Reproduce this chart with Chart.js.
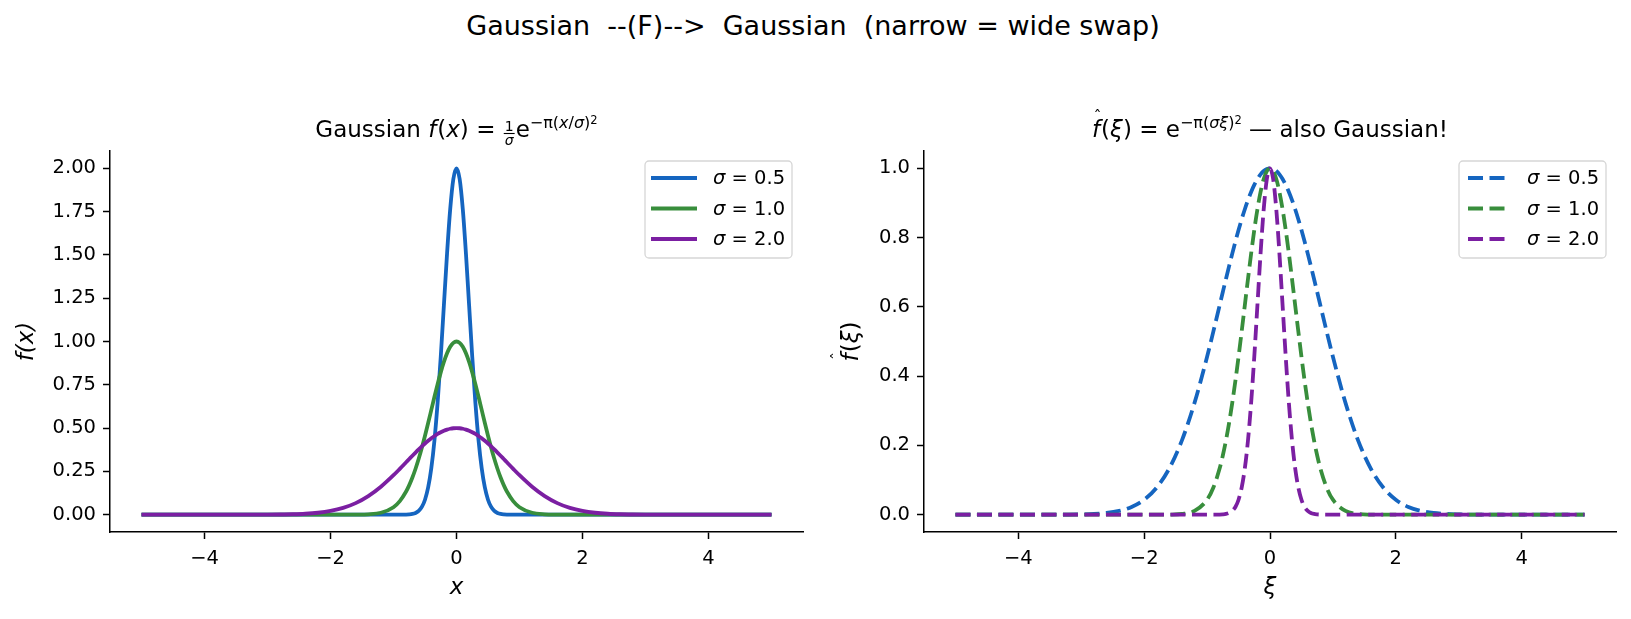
<!DOCTYPE html>
<html><head><meta charset="utf-8">
<script src="https://cdn.jsdelivr.net/npm/chart.js@4.4.1/dist/chart.umd.min.js"></script>
<style>
html,body{margin:0;padding:0;background:#fff;}
#wrap{position:relative;width:1631px;height:619px;overflow:hidden;background:#fff;}
#sup{position:absolute;left:0;width:1626px;top:12px;text-align:center;font-family:'DejaVu Sans';font-size:27px;line-height:27px;color:#000;white-space:pre;}
canvas{position:absolute;top:0;}
</style></head>
<body><div id="wrap">
<div id="sup">Gaussian  --(F)-->  Gaussian  (narrow = wide swap)</div>
<canvas id="c1" width="815" height="619" style="left:0px"></canvas>
<canvas id="c2" width="816" height="619" style="left:815px"></canvas>
</div>
<script>
// ---------- data ----------
const xs = [-5,-4.5,-4,-3.5,-3.2,-3.0,-2.8,-2.6,-2.4,-2.2,-2.0,-1.8,-1.6,-1.4,-1.2,-1.0,-0.9,-0.8,-0.75,-0.7,-0.65,-0.6,-0.55,-0.5,-0.45,-0.4,-0.35,-0.3,-0.25,-0.2,-0.15,-0.1,-0.05,
  0,
  0.05,0.1,0.15,0.2,0.25,0.3,0.35,0.4,0.45,0.5,0.55,0.6,0.65,0.7,0.75,0.8,0.9,1.0,1.2,1.4,1.6,1.8,2.0,2.2,2.4,2.6,2.8,3.0,3.2,3.5,4,4.5,5];

const sigmaLabels = ['0.5', '1.0', '2.0'];

const leftSigma05 = [0,0,0,0,0,0,0,0,0,0,0,0,0,0,0,0,0.0001,0.0006,0.0017,0.0042,0.0099,0.0217,0.0447,0.0864,0.1570,0.2678,0.4291,0.6454,0.9119,1.2098,1.5074,1.7638,1.9381,
  2.0,
  1.9381,1.7638,1.5074,1.2098,0.9119,0.6454,0.4291,0.2678,0.1570,0.0864,0.0447,0.0217,0.0099,0.0042,0.0017,0.0006,0.0001,0,0,0,0,0,0,0,0,0,0,0,0,0,0,0,0];
const leftSigma10 = [0,0,0,0,0,0,0,0,0,0,0,0,0.0003,0.0021,0.0109,0.0432,0.0785,0.1339,0.1708,0.2146,0.2652,0.3227,0.3866,0.4559,0.5293,0.6049,0.6806,0.7537,0.8217,0.8819,0.9318,0.9691,0.9922,
  1.0,
  0.9922,0.9691,0.9318,0.8819,0.8217,0.7537,0.6806,0.6049,0.5293,0.4559,0.3866,0.3227,0.2652,0.2146,0.1708,0.1339,0.0785,0.0432,0.0109,0.0021,0.0003,0,0,0,0,0,0,0,0,0,0,0,0];
const leftSigma20 = [0,0,0,0,0.0002,0.0004,0.0011,0.0025,0.0054,0.0112,0.0216,0.0392,0.0669,0.1073,0.1614,0.2280,0.2647,0.3025,0.3214,0.3403,0.3588,0.3769,0.3943,0.4109,0.4265,0.4410,0.4541,0.4659,0.4761,0.4845,0.4912,0.4961,0.4990,
  0.5,
  0.4990,0.4961,0.4912,0.4845,0.4761,0.4659,0.4541,0.4410,0.4265,0.4109,0.3943,0.3769,0.3588,0.3403,0.3214,0.3025,0.2647,0.2280,0.1614,0.1073,0.0669,0.0392,0.0216,0.0112,0.0054,0.0025,0.0011,0.0004,0.0002,0,0,0,0];

const rightSigma05 = [0,0,0,0.0001,0.0003,0.0009,0.0021,0.0049,0.0109,0.0223,0.0432,0.0785,0.1339,0.2146,0.3227,0.4559,0.5293,0.6049,0.6429,0.6806,0.7176,0.7537,0.7885,0.8217,0.8530,0.8819,0.9083,0.9318,0.9521,0.9691,0.9825,0.9922,0.9980,
  1.0,
  0.9980,0.9922,0.9825,0.9691,0.9521,0.9318,0.9083,0.8819,0.8530,0.8217,0.7885,0.7537,0.7176,0.6806,0.6429,0.6049,0.5293,0.4559,0.3227,0.2146,0.1339,0.0785,0.0432,0.0223,0.0109,0.0049,0.0021,0.0009,0.0003,0.0001,0,0,0];
const rightSigma10 = [0,0,0,0,0,0,0,0,0,0,0,0,0.0003,0.0021,0.0109,0.0432,0.0785,0.1339,0.1708,0.2146,0.2652,0.3227,0.3866,0.4559,0.5293,0.6049,0.6806,0.7537,0.8217,0.8819,0.9318,0.9691,0.9922,
  1.0,
  0.9922,0.9691,0.9318,0.8819,0.8217,0.7537,0.6806,0.6049,0.5293,0.4559,0.3866,0.3227,0.2652,0.2146,0.1708,0.1339,0.0785,0.0432,0.0109,0.0021,0.0003,0,0,0,0,0,0,0,0,0,0,0,0];
const rightSigma20 = [0,0,0,0,0,0,0,0,0,0,0,0,0,0,0,0,0,0.0003,0.0009,0.0021,0.0049,0.0109,0.0223,0.0432,0.0785,0.1339,0.2146,0.3227,0.4559,0.6049,0.7537,0.8819,0.9691,
  1.0,
  0.9691,0.8819,0.7537,0.6049,0.4559,0.3227,0.2146,0.1339,0.0785,0.0432,0.0223,0.0109,0.0049,0.0021,0.0009,0.0003,0,0,0,0,0,0,0,0,0,0,0,0,0,0,0,0,0];

const xTickVals = [-4, -2, 0, 2, 4];
const xTickLabels = ['\u22124', '\u22122', '0', '2', '4'];
const leftYTickVals = [0, 0.25, 0.5, 0.75, 1.0, 1.25, 1.5, 1.75, 2.0];
const leftYTickLabels = ['0.00','0.25','0.50','0.75','1.00','1.25','1.50','1.75','2.00'];
const rightYTickVals = [0, 0.2, 0.4, 0.6, 0.8, 1.0];
const rightYTickLabels = ['0.0','0.2','0.4','0.6','0.8','1.0'];

// ---------- styling ----------
const FONT = 'DejaVu Sans';
const COLORS = ['#1565c0', '#388e3c', '#7b1fa2'];
const LW = 3.8;

function fnt(s) { return (s.it ? 'italic ' : '') + s.size + 'px "' + FONT + '"'; }
function segWidth(ctx, s) {
  if (s.frac) {
    ctx.font = fnt({size: s.size}); const a = ctx.measureText(s.num).width;
    ctx.font = fnt({size: s.size, it: true}); const b = ctx.measureText(s.den).width;
    return Math.max(a, b) + 2 * s.pad;
  }
  ctx.font = fnt(s);
  return ctx.measureText(s.t).width + (s.gap || 0);
}
function drawRich(ctx, segs, cx, base) {
  let w = 0; segs.forEach(s => w += segWidth(ctx, s));
  let x = cx - w / 2;
  ctx.save();
  ctx.fillStyle = '#000'; ctx.strokeStyle = '#000';
  ctx.textBaseline = 'alphabetic'; ctx.textAlign = 'left';
  for (const s of segs) {
    const sw = segWidth(ctx, s);
    if (s.frac) {
      ctx.font = fnt({size: s.size}); ctx.textAlign = 'center';
      ctx.fillText(s.num, x + sw / 2, base + s.numDy);
      ctx.font = fnt({size: s.size, it: true});
      ctx.fillText(s.den, x + sw / 2, base + s.denDy);
      ctx.textAlign = 'left';
      ctx.lineWidth = 1.1;
      ctx.beginPath(); ctx.moveTo(x + 1, base + s.barDy); ctx.lineTo(x + sw - 1, base + s.barDy); ctx.stroke();
    } else {
      ctx.font = fnt(s);
      ctx.fillText(s.t, x, base + (s.dy || 0));
      if (s.hat) {
        ctx.font = fnt({size: s.hat.size}); ctx.textAlign = 'center';
        ctx.fillText('\u02C6', x + sw / 2 + s.hat.dx, base + s.hat.dy);
        ctx.textAlign = 'left';
      }
    }
    x += sw;
  }
  ctx.restore();
}

const richTitlePlugin = {
  id: 'richTitle',
  afterDraw(chart, args, opts) {
    const a = chart.chartArea, ctx = chart.ctx;
    drawRich(ctx, opts.segs, (a.left + a.right) / 2, opts.base);
    if (opts.ylabel) {
      ctx.save();
      ctx.translate(opts.ylabel.x, (a.top + a.bottom) / 2);
      ctx.rotate(-Math.PI / 2);
      drawRich(ctx, opts.ylabel.segs, 0, 0);
      ctx.restore();
    }
  }
};

const boxLegendPlugin = {
  id: 'boxLegend',
  afterDraw(chart, args, opts) {
    const ctx = chart.ctx, a = chart.chartArea;
    const bw = 147, bh = 97;
    const bx = a.right - opts.rightInset - bw, by = a.top + 10;
    ctx.save();
    ctx.fillStyle = 'rgba(255,255,255,0.8)';
    ctx.strokeStyle = '#d6d6d6'; ctx.lineWidth = 1.3;
    ctx.beginPath();
    if (ctx.roundRect) ctx.roundRect(bx, by, bw, bh, 4); else ctx.rect(bx, by, bw, bh);
    ctx.fill(); ctx.stroke();
    const rows = [17, 47.5, 78];
    opts.labels.forEach((lab, i) => {
      const yy = by + rows[i];
      ctx.strokeStyle = opts.colors[i]; ctx.lineWidth = LW; ctx.lineCap = 'butt';
      ctx.setLineDash(opts.dash);
      ctx.beginPath(); ctx.moveTo(bx + opts.hx0, yy); ctx.lineTo(bx + opts.hx0 + opts.hlen, yy); ctx.stroke();
      ctx.setLineDash([]);
      ctx.fillStyle = '#000'; ctx.textBaseline = 'middle'; ctx.textAlign = 'left';
      ctx.font = 'italic 19.5px "' + FONT + '"';
      ctx.fillText('\u03C3', bx + 68, yy + 1);
      const sw = ctx.measureText('\u03C3').width;
      ctx.font = '19.5px "' + FONT + '"';
      ctx.fillText(' = ' + lab, bx + 68 + sw, yy + 1);
    });
    ctx.restore();
  }
};

function makeDatasets(series, dash) {
  return series.map((vals, i) => ({
    label: '\u03C3 = ' + sigmaLabels[i],
    data: xs.map((x, j) => ({x: x, y: vals[j]})),
    borderColor: COLORS[i],
    backgroundColor: COLORS[i],
    borderWidth: LW,
    borderDash: dash,
    pointRadius: 0,
    fill: false,
    cubicInterpolationMode: 'monotone',
    order: 2 - i
  }));
}

function makeChart(id, cfg) {
  return new Chart(document.getElementById(id), {
    type: 'line',
    data: {datasets: makeDatasets(cfg.series, cfg.dash)},
    options: {
      responsive: false, animation: false, events: [],
      layout: {padding: {top: 151, right: cfg.padRight, bottom: 0, left: 0}},
      plugins: {
        legend: {display: false}, tooltip: {enabled: false}, title: {display: false},
        richTitle: {segs: cfg.titleSegs, base: 137, ylabel: cfg.ylabelRich},
        boxLegend: {labels: sigmaLabels, colors: COLORS, dash: cfg.dash, rightInset: cfg.legendInset, hx0: cfg.hx0, hlen: cfg.hlen}
      },
      scales: {
        x: {
          type: 'linear', min: -5.5, max: 5.5,
          afterBuildTicks: ax => { ax.ticks = xTickVals.map(v => ({value: v})); },
          afterFit: ax => { ax.height = 87; },
          ticks: {callback: v => xTickLabels[xTickVals.indexOf(v)], font: {family: FONT, size: 19.5}, color: '#000', padding: 8, maxRotation: 0, autoSkip: false},
          grid: {drawOnChartArea: false, drawTicks: true, tickLength: 7, tickWidth: 1.5, tickColor: '#000'},
          border: {display: true, color: '#000', width: 1.5},
          title: {display: true, text: cfg.xTitle, font: {family: FONT, size: 23, style: 'italic'}, color: '#000', padding: {top: 0, bottom: 17}}
        },
        y: {
          type: 'linear', min: cfg.yMin, max: cfg.yMax,
          afterBuildTicks: ax => { ax.ticks = cfg.yTickVals.map(v => ({value: v})); },
          afterFit: ax => { ax.width = cfg.yWidth; },
          ticks: {callback: v => cfg.yTickLabels[cfg.yTickVals.indexOf(v)], font: {family: FONT, size: 19.5}, color: '#000', padding: 7, autoSkip: false},
          grid: {drawOnChartArea: false, drawTicks: true, tickLength: 7, tickWidth: 1.5, tickColor: '#000'},
          border: {display: true, color: '#000', width: 1.5},
          title: {display: !!cfg.yTitle, text: cfg.yTitle || '', font: {family: FONT, size: 23, style: 'italic'}, color: '#000', padding: {top: cfg.yTitlePad, bottom: 0}}
        }
      }
    },
    plugins: [richTitlePlugin, boxLegendPlugin]
  });
}

const leftTitle = [
  {t: 'Gaussian ', size: 23},
  {t: 'f', size: 23, it: true, gap: 1},
  {t: '(', size: 23},
  {t: 'x', size: 23, it: true},
  {t: ')', size: 23},
  {t: ' = ', size: 23},
  {frac: true, num: '1', den: '\u03C3', size: 14, pad: 2, numDy: -6.5, denDy: 8, barDy: -3.5},
  {t: 'e', size: 23},
  {t: '\u2212\u03C0', size: 16, dy: -9},
  {t: '(', size: 16, dy: -9},
  {t: 'x', size: 16, it: true, dy: -9},
  {t: '/', size: 16, dy: -9},
  {t: '\u03C3', size: 16, it: true, dy: -9},
  {t: ')', size: 16, dy: -9},
  {t: '2', size: 11.5, dy: -13}
];
const rightTitle = [
  {t: 'f', size: 23, it: true, gap: 1, hat: {size: 16, dx: 1, dy: -15}},
  {t: '(', size: 23},
  {t: '\u03BE', size: 23, it: true},
  {t: ')', size: 23},
  {t: ' = ', size: 23},
  {t: 'e', size: 23},
  {t: '\u2212\u03C0', size: 16, dy: -9},
  {t: '(', size: 16, dy: -9},
  {t: '\u03C3', size: 16, it: true, dy: -9},
  {t: '\u03BE', size: 16, it: true, dy: -9},
  {t: ')', size: 16, dy: -9},
  {t: '2', size: 11.5, dy: -13},
  {t: ' \u2014 also Gaussian!', size: 23}
];
const rightYLabel = [
  {t: 'f', size: 23, it: true, gap: 1, hat: {size: 16, dx: 1, dy: -15}},
  {t: '(', size: 23},
  {t: '\u03BE', size: 23, it: true},
  {t: ')', size: 23}
];

makeChart('c1', {
  series: [leftSigma05, leftSigma10, leftSigma20], dash: [],
  padRight: 12, yWidth: 110, yMin: -0.1, yMax: 2.1,
  yTickVals: leftYTickVals, yTickLabels: leftYTickLabels,
  xTitle: 'x', yTitle: 'f(x)', yTitlePad: 13,
  titleSegs: leftTitle, legendInset: 11, hx0: 6, hlen: 46
});
makeChart('c2', {
  series: [rightSigma05, rightSigma10, rightSigma20], dash: [15, 6.5],
  padRight: 15, yWidth: 109, yMin: -0.05, yMax: 1.05,
  yTickVals: rightYTickVals, yTickLabels: rightYTickLabels,
  xTitle: '\u03BE', yTitle: null, yTitlePad: 21,
  ylabelRich: {x: 43, segs: rightYLabel},
  titleSegs: rightTitle, legendInset: 10, hx0: 9, hlen: 42
});
</script>
</body></html>
